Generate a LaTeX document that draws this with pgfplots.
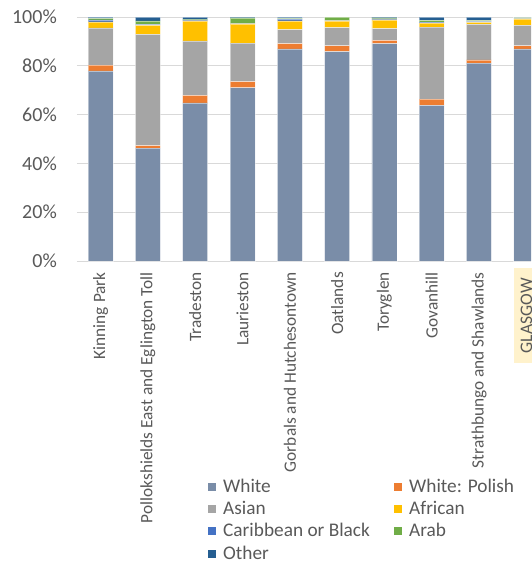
\documentclass[border=0pt]{standalone}
\usepackage{pgfplots}
\pgfplotsset{compat=1.18}
\usepackage{pgfplotstable}
\usepackage{fontspec}
\setmainfont{Carlito}
\definecolor{cWhite}{RGB}{122,141,168}
\definecolor{cPolish}{RGB}{237,125,49}
\definecolor{cAsian}{RGB}{165,165,165}
\definecolor{cAfrican}{RGB}{255,192,0}
\definecolor{cCarib}{RGB}{68,114,196}
\definecolor{cArab}{RGB}{112,173,71}
\definecolor{cOther}{RGB}{37,94,145}
\definecolor{txt}{RGB}{89,89,89}
\definecolor{gridc}{RGB}{217,217,217}
\definecolor{glbg}{RGB}{255,242,204}

\pgfplotstableread{
x White Polish Asian African Carib Arab Other
0 77.9 2.4 15.2 2.5 0.8 0.6 0.6
1 46.3 1.0 45.6 3.7 0.4 1.4 1.6
2 64.8 3.1 22.3 8.2 0.4 0.3 0.9
3 71.0 2.5 15.8 7.9 0.1 2.3 0.4
4 86.9 2.2 5.7 3.6 0.7 0.3 0.6
5 85.8 2.4 7.4 2.8 0.1 1.4 0.1
6 89.1 1.3 4.8 3.6 0.4 0.4 0.4
7 63.8 2.5 29.6 1.6 0.4 0.7 1.4
8 81.1 1.3 14.6 0.8 0.4 0.4 1.4
9 86.9 1.3 8.4 2.6 0.1 0.4 0.3
}\data

\begin{document}
\begin{tikzpicture}
\begin{axis}[
  at={(0pt,0pt)}, anchor=south west,
  scale only axis, width=454pt, height=244pt,
  xmin=-0.5, xmax=9.1, ymin=0, ymax=100,
  ybar stacked, bar width=25pt,
  axis x line*=bottom, axis y line*=left,
  x axis line style={draw=gridc, line width=1pt},
  y axis line style={draw=none},
  major tick length=0pt,
  ymajorgrids, grid style={draw=gridc, line width=1pt},
  xtick={0,...,8},
  xticklabels={Kinning Park, Pollokshields East and Eglington Toll, Tradeston, Laurieston, Gorbals and Hutchesontown, Oatlands, Toryglen, Govanhill, Strathbungo and Shawlands},
  xticklabel style={rotate=90, anchor=east, inner xsep=11pt, inner ysep=0pt, font=\fontsize{17.3}{20}\selectfont, text=txt},
  ytick={0,20,...,100},
  yticklabel={\pgfmathprintnumber{\tick}\%},
  yticklabel style={anchor=east, inner sep=0pt, xshift=-20pt, font=\fontsize{20}{24}\selectfont, text=txt},
  /pgf/number format/assume math mode=true,
  legend columns=2,
  legend cell align=left,
  legend image code/.code={\fill[#1,draw=none] (0pt,-4pt) rectangle (8pt,4pt);},
  legend style={at={(axis description cs:0,0)}, anchor=north west, xshift=131pt, yshift=-218pt,
    draw=none, fill=none, inner sep=0pt, row sep=7.3pt,
    font=\fontsize{19.3}{23}\selectfont, text=txt,
    nodes={inner sep=0pt, text height=13pt, text depth=2pt},
    /tikz/every odd column/.append style={column sep=7pt},
    /tikz/every even column/.append style={column sep=24.3pt}},
  every axis plot/.append style={draw=white, draw opacity=0.45, line width=0.6pt},
]
\addplot[fill=cWhite] table[x=x,y=White]{\data};
\addlegendentry{White}
\addplot[fill=cPolish] table[x=x,y=Polish]{\data};
\addlegendentry{White: Polish}
\addplot[fill=cAsian] table[x=x,y=Asian]{\data};
\addlegendentry{Asian}
\addplot[fill=cAfrican] table[x=x,y=African]{\data};
\addlegendentry{African}
\addplot[fill=cCarib] table[x=x,y=Carib]{\data};
\addlegendentry{Caribbean or Black}
\addplot[fill=cArab] table[x=x,y=Arab]{\data};
\addlegendentry{Arab}
\addplot[fill=cOther] table[x=x,y=Other]{\data};
\addlegendentry{Other}
\coordinate (g) at (axis cs:9,0);
\end{axis}
\node[rotate=90, anchor=east, fill=glbg, inner xsep=10pt, inner ysep=6.75pt, text height=11.5pt, text depth=0pt,
  font=\fontsize{17.6}{20}\selectfont, text=txt] at ([yshift=-7pt]g) {GLASGOW};
\pgfresetboundingbox
\path[use as bounding box] (-77pt,-301pt) rectangle (454pt,261pt);
\end{tikzpicture}
\end{document}
